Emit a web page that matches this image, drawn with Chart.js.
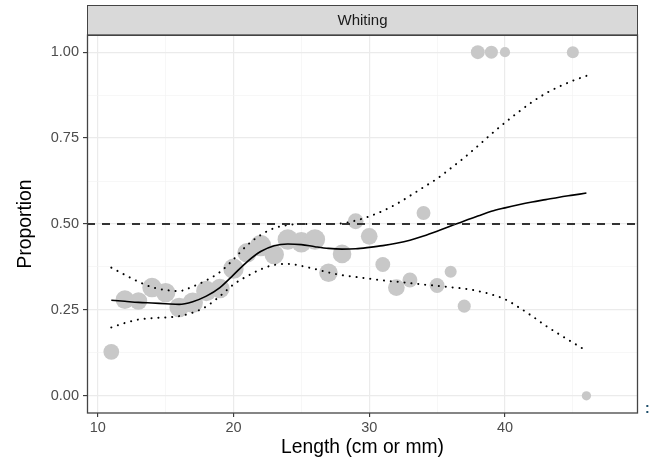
<!DOCTYPE html>
<html>
<head>
<meta charset="utf-8">
<script src="https://cdn.jsdelivr.net/npm/chart.js@4"></script>
<style>
  html, body { margin: 0; padding: 0; background: #ffffff; overflow: hidden; }
  #wrap { width: 654px; height: 462px; position: relative; }
</style>
</head>
<body>
<div id="wrap"><canvas id="chartWhiting" width="654" height="462"></canvas></div>
<script>
// observed proportions per length class
var lengths = [11, 12, 13, 14, 15, 16, 17, 18, 19, 20, 21, 22, 23, 24, 25, 26, 27, 28, 29, 30,
  31, 32, 33, 34, 35, 36, 37, 38, 39, 40, 45, 46];
var proportions = [0.128, 0.28, 0.276, 0.315, 0.30, 0.257, 0.271, 0.305, 0.312, 0.37, 0.416, 0.437,
  0.411, 0.455, 0.447, 0.455, 0.358, 0.413, 0.508, 0.464, 0.382, 0.315, 0.337, 0.532, 0.321,
  0.361, 0.261, 1.0, 1.0, 1.0, 1.0, 0.0];
// relative sample size (bubble area)
var sampleSize = [72, 100, 90, 110, 110, 110, 120, 120, 110, 120, 110, 130, 110, 120, 120, 120,
  100, 100, 72, 81, 64, 81, 64, 56, 64, 42, 49, 56, 49, 30, 42, 25];

// fitted curve and confidence band
var fitLengths = [11, 12, 13, 14, 15, 16, 17, 18, 19, 20, 21, 22, 23, 24, 25, 26, 27, 28, 29, 30,
  31, 32, 33, 34, 35, 36, 37, 38, 39, 40, 41, 42, 43, 44, 45, 46];
var fit = [0.278, 0.275, 0.272, 0.27, 0.268, 0.266, 0.274, 0.29, 0.315, 0.352, 0.39, 0.42, 0.437,
  0.442, 0.44, 0.434, 0.429, 0.427, 0.428, 0.432, 0.437, 0.444, 0.453, 0.465, 0.479, 0.494, 0.509,
  0.523, 0.537, 0.547, 0.556, 0.564, 0.571, 0.578, 0.584, 0.59];
var upper = [0.373, 0.352, 0.332, 0.316, 0.308, 0.305, 0.318, 0.336, 0.36, 0.397, 0.438, 0.468,
  0.488, 0.497, 0.5, 0.5, 0.5, 0.502, 0.51, 0.522, 0.538, 0.558, 0.582, 0.607, 0.632, 0.662, 0.693,
  0.727, 0.762, 0.795, 0.826, 0.855, 0.88, 0.9, 0.917, 0.931];
var lower = [0.199, 0.212, 0.222, 0.226, 0.228, 0.232, 0.242, 0.26, 0.29, 0.324, 0.348, 0.368,
  0.381, 0.384, 0.378, 0.369, 0.359, 0.351, 0.346, 0.341, 0.336, 0.332, 0.328, 0.324, 0.32, 0.316,
  0.312, 0.305, 0.295, 0.281, 0.258, 0.232, 0.204, 0.179, 0.155, 0.131];
var refLevel = 0.5;

var xMajor = [10, 20, 30, 40];
var xMinor = [15, 25, 35, 45];
var yMajor = [0, 0.25, 0.5, 0.75, 1];
var yMinor = [0.125, 0.375, 0.625, 0.875];

var xMin = 9.21, xMax = 49.8, yMin = -0.05, yMax = 1.05;
var panelTitle = "Whiting";
var xTitle = "Length (cm or mm)";
var yTitle = "Proportion";

(function () {
  var FONT = "'Liberation Sans', Arial, Helvetica, sans-serif";

  function pairs(xs, ys) {
    return xs.map(function (x, i) { return { x: x, y: ys[i] }; });
  }

  function isMajor(list, v) {
    return list.some(function (m) { return Math.abs(m - v) < 1e-9; });
  }

  function tickSetup(major, minor) {
    return function (scale) {
      scale.ticks = major.concat(minor).sort(function (a, b) { return a - b; })
        .map(function (v) { return { value: v }; });
    };
  }

  function gridFor(major) {
    return {
      color: function (ctx) { return ctx.tick && isMajor(major, ctx.tick.value) ? "#ebebeb" : "#f4f4f4"; },
      lineWidth: function (ctx) { return ctx.tick && isMajor(major, ctx.tick.value) ? 1.2 : 0.7; },
      tickColor: function (ctx) { return ctx.tick && isMajor(major, ctx.tick.value) ? "#333333" : "rgba(0,0,0,0)"; },
      tickLength: 4,
      tickWidth: 1.1,
      drawTicks: true,
    };
  }

  var panelDecor = {
    id: "panelDecor",
    afterDraw: function (chart) {
      var ctx = chart.ctx, a = chart.chartArea;
      ctx.save();
      // facet strip
      ctx.fillStyle = "#d9d9d9";
      ctx.fillRect(a.left, 5, a.right - a.left, a.top - 5);
      ctx.strokeStyle = "#444444";
      ctx.lineWidth = 1;
      ctx.strokeRect(a.left + 0.5, 5.5, a.right - a.left - 1, a.top - 5);
      ctx.fillStyle = "#1a1a1a";
      ctx.font = "15px " + FONT;
      ctx.textAlign = "center";
      ctx.textBaseline = "middle";
      ctx.fillText(panelTitle, (a.left + a.right) / 2, 20.5);
      // panel border
      ctx.strokeStyle = "#444444";
      ctx.lineWidth = 1.3;
      ctx.strokeRect(a.left + 0.5, a.top, a.right - a.left - 1, a.bottom - a.top);
      // axis titles
      ctx.fillStyle = "#000000";
      ctx.font = "19.3px " + FONT;
      ctx.fillText(xTitle, (a.left + a.right) / 2, 448);
      ctx.translate(26, (a.top + a.bottom) / 2);
      ctx.rotate(-Math.PI / 2);
      ctx.fillText(yTitle, 0, 0);
      ctx.restore();
      ctx.save();
      ctx.fillStyle = "#1d4e6b";
      ctx.font = "bold 14px " + FONT;
      ctx.textAlign = "left";
      ctx.textBaseline = "middle";
      ctx.fillText(":", 645, 409);
      ctx.restore();
    },
  };

  var lineBase = {
    type: "line",
    pointRadius: 0,
    pointHoverRadius: 0,
    fill: false,
    cubicInterpolationMode: "monotone",
    order: 1,
  };

  new Chart(document.getElementById("chartWhiting"), {
    type: "bubble",
    data: {
      datasets: [
        Object.assign({}, lineBase, {
          label: "ref",
          data: [{ x: xMin, y: refLevel }, { x: xMax, y: refLevel }],
          borderColor: "#333333",
          borderWidth: 2,
          borderDash: [8, 7],
        }),
        Object.assign({}, lineBase, {
          label: "upper",
          data: pairs(fitLengths, upper),
          borderColor: "#000000",
          borderWidth: 2,
          borderDash: [0.1, 6.8],
          borderCapStyle: "round",
        }),
        Object.assign({}, lineBase, {
          label: "lower",
          data: pairs(fitLengths, lower),
          borderColor: "#000000",
          borderWidth: 2,
          borderDash: [0.1, 6.8],
          borderCapStyle: "round",
        }),
        Object.assign({}, lineBase, {
          label: "fit",
          data: pairs(fitLengths, fit),
          borderColor: "#000000",
          borderWidth: 1.6,
        }),
        {
          label: "observed",
          data: lengths.map(function (x, i) {
            return { x: x, y: proportions[i], r: 0.93 * Math.sqrt(sampleSize[i]) };
          }),
          backgroundColor: "#c8c8c8",
          borderColor: "#c8c8c8",
          borderWidth: 0,
          hoverRadius: 0,
          order: 10,
        },
      ],
    },
    options: {
      responsive: false,
      animation: false,
      events: [],
      layout: { padding: { top: 35, right: 16, left: 0, bottom: 0 } },
      plugins: { legend: { display: false }, tooltip: { enabled: false } },
      scales: {
        x: {
          type: "linear",
          min: xMin,
          max: xMax,
          afterBuildTicks: tickSetup(xMajor, xMinor),
          afterFit: function (scale) { scale.height = 49; },
          grid: gridFor(xMajor),
          border: { display: false },
          ticks: {
            autoSkip: false,
            maxRotation: 0,
            padding: 2,
            color: "#4d4d4d",
            font: { family: FONT, size: 14.5 },
            callback: function (v) { return isMajor(xMajor, v) ? String(v) : ""; },
          },
        },
        y: {
          type: "linear",
          min: yMin,
          max: yMax,
          afterBuildTicks: tickSetup(yMajor, yMinor),
          afterFit: function (scale) { scale.width = 87; },
          grid: gridFor(yMajor),
          border: { display: false },
          ticks: {
            autoSkip: false,
            padding: 4,
            color: "#4d4d4d",
            font: { family: FONT, size: 14.5 },
            callback: function (v) { return isMajor(yMajor, v) ? v.toFixed(2) : ""; },
          },
        },
      },
    },
    plugins: [panelDecor],
  });
})();
</script>
</body>
</html>
